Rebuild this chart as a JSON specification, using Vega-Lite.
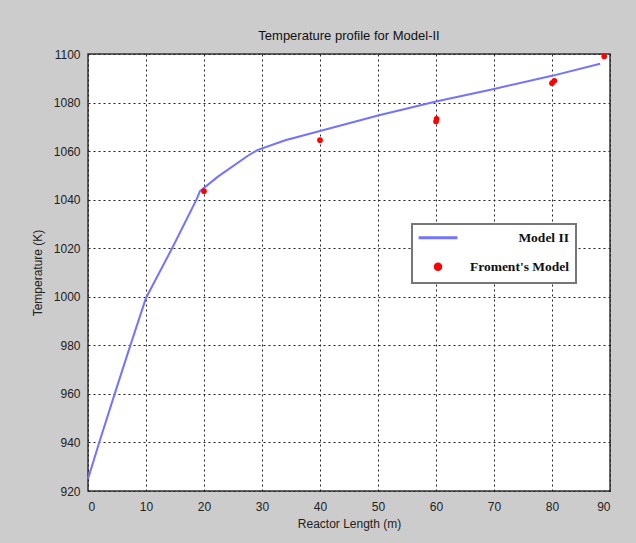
{
  "$schema": "https://vega.github.io/schema/vega-lite/v6.json",
  "width": 522,
  "height": 437,
  "autosize": {"type": "none"},
  "padding": {"left": 88, "top": 54, "right": 26, "bottom": 52},
  "background": "#cccccc",
  "title": {"text": "Temperature profile for Model-II", "font": "Liberation Sans", "fontSize": 13, "fontWeight": "normal", "color": "#111111", "offset": 5},
  "datasets": {
    "model": [
      {"x": 0, "y": 925, "series": "Model II"},
      {"x": 2, "y": 940.5, "series": "Model II"},
      {"x": 4.6, "y": 960, "series": "Model II"},
      {"x": 7.3, "y": 980, "series": "Model II"},
      {"x": 10, "y": 999.5, "series": "Model II"},
      {"x": 14.5, "y": 1020, "series": "Model II"},
      {"x": 18.8, "y": 1040.5, "series": "Model II"},
      {"x": 19.3, "y": 1043.5, "series": "Model II"},
      {"x": 22.4, "y": 1049.5, "series": "Model II"},
      {"x": 27.5, "y": 1058, "series": "Model II"},
      {"x": 29.2, "y": 1060.4, "series": "Model II"},
      {"x": 34, "y": 1064.5, "series": "Model II"},
      {"x": 40, "y": 1068.3, "series": "Model II"},
      {"x": 50, "y": 1074.7, "series": "Model II"},
      {"x": 60, "y": 1080.4, "series": "Model II"},
      {"x": 70, "y": 1085.6, "series": "Model II"},
      {"x": 80, "y": 1091, "series": "Model II"},
      {"x": 88.3, "y": 1096, "series": "Model II"}
    ],
    "froment": [
      {"x": 20, "y": 1043.5, "series": "Froment's Model"},
      {"x": 40, "y": 1064.5, "series": "Froment's Model"},
      {"x": 60, "y": 1072.2, "series": "Froment's Model"},
      {"x": 60.1, "y": 1073.3, "series": "Froment's Model"},
      {"x": 80, "y": 1088, "series": "Froment's Model"},
      {"x": 80.4, "y": 1089, "series": "Froment's Model"},
      {"x": 89, "y": 1099, "series": "Froment's Model"}
    ]
  },
  "encoding": {
    "x": {
      "field": "x", "type": "quantitative",
      "scale": {"domain": [0, 90], "nice": false, "zero": false},
      "axis": {"title": "Reactor Length (m)", "values": [0,10,20,30,40,50,60,70,80,90], "format": "d", "labelPadding": 10}
    },
    "y": {
      "field": "y", "type": "quantitative",
      "scale": {"domain": [920, 1100], "nice": false, "zero": false},
      "axis": {"title": "Temperature (K)", "values": [920,940,960,980,1000,1020,1040,1060,1080,1100], "format": "d"}
    },
    "color": {
      "field": "series", "type": "nominal",
      "scale": {"domain": ["Model II", "Froment's Model"], "range": ["#7373ff", "#ff0000"]},
      "legend": {
        "title": null,
        "orient": "none",
        "legendX": 324,
        "legendY": 170,
        "fillColor": "white",
        "strokeColor": "#777777",
        "padding": 7,
        "symbolSize": 100,
        "rowPadding": 13,
        "labelFont": "Liberation Serif",
        "labelFontWeight": "bold",
        "labelFontSize": 13.5,
        "labelColor": "#111111",
        "labelLimit": 300,
        "encode": {
          "legend": {"update": {"strokeWidth": {"value": 2}}},
          "symbols": {"update": {
            "shape": {"signal": "datum.value === 'Model II' ? 'stroke' : 'circle'"},
            "size": {"signal": "datum.value === 'Model II' ? 1500 : 30"},
            "x": {"value": 19},
            "fill": {"signal": "datum.value === 'Model II' ? 'transparent' : '#ff0000'"},
            "stroke": {"signal": "datum.value === 'Model II' ? '#7b7bff' : 'transparent'"},
            "strokeWidth": {"value": 3},
            "opacity": {"value": 1},
            "fillOpacity": {"value": 1},
            "strokeOpacity": {"value": 1}
          }},
          "labels": {"update": {
            "x": {"value": 150},
            "align": {"value": "right"}
          }}
        }
      }
    }
  },
  "layer": [
    {
      "data": {"name": "model"},
      "mark": {"type": "line", "strokeWidth": 2}
    },
    {
      "data": {"name": "froment"},
      "mark": {"type": "circle", "size": 32, "opacity": 1}
    }
  ],
  "config": {
    "view": {"fill": "white", "stroke": "#333333", "strokeWidth": 1.5},
    "axis": {
      "labelFont": "Liberation Sans",
      "labelFontSize": 12,
      "labelColor": "#222222",
      "titleFont": "Liberation Sans",
      "titleFontSize": 12,
      "titleFontWeight": "normal",
      "titleColor": "#222222",
      "grid": true,
      "gridColor": "#222222",
      "gridDash": [2, 3],
      "gridWidth": 1,
      "gridOpacity": 1,
      "domain": false,
      "ticks": false,
      "labelPadding": 8
    },
    "axisX": {"titlePadding": 6},
    "axisY": {"titlePadding": 9}
  }
}
